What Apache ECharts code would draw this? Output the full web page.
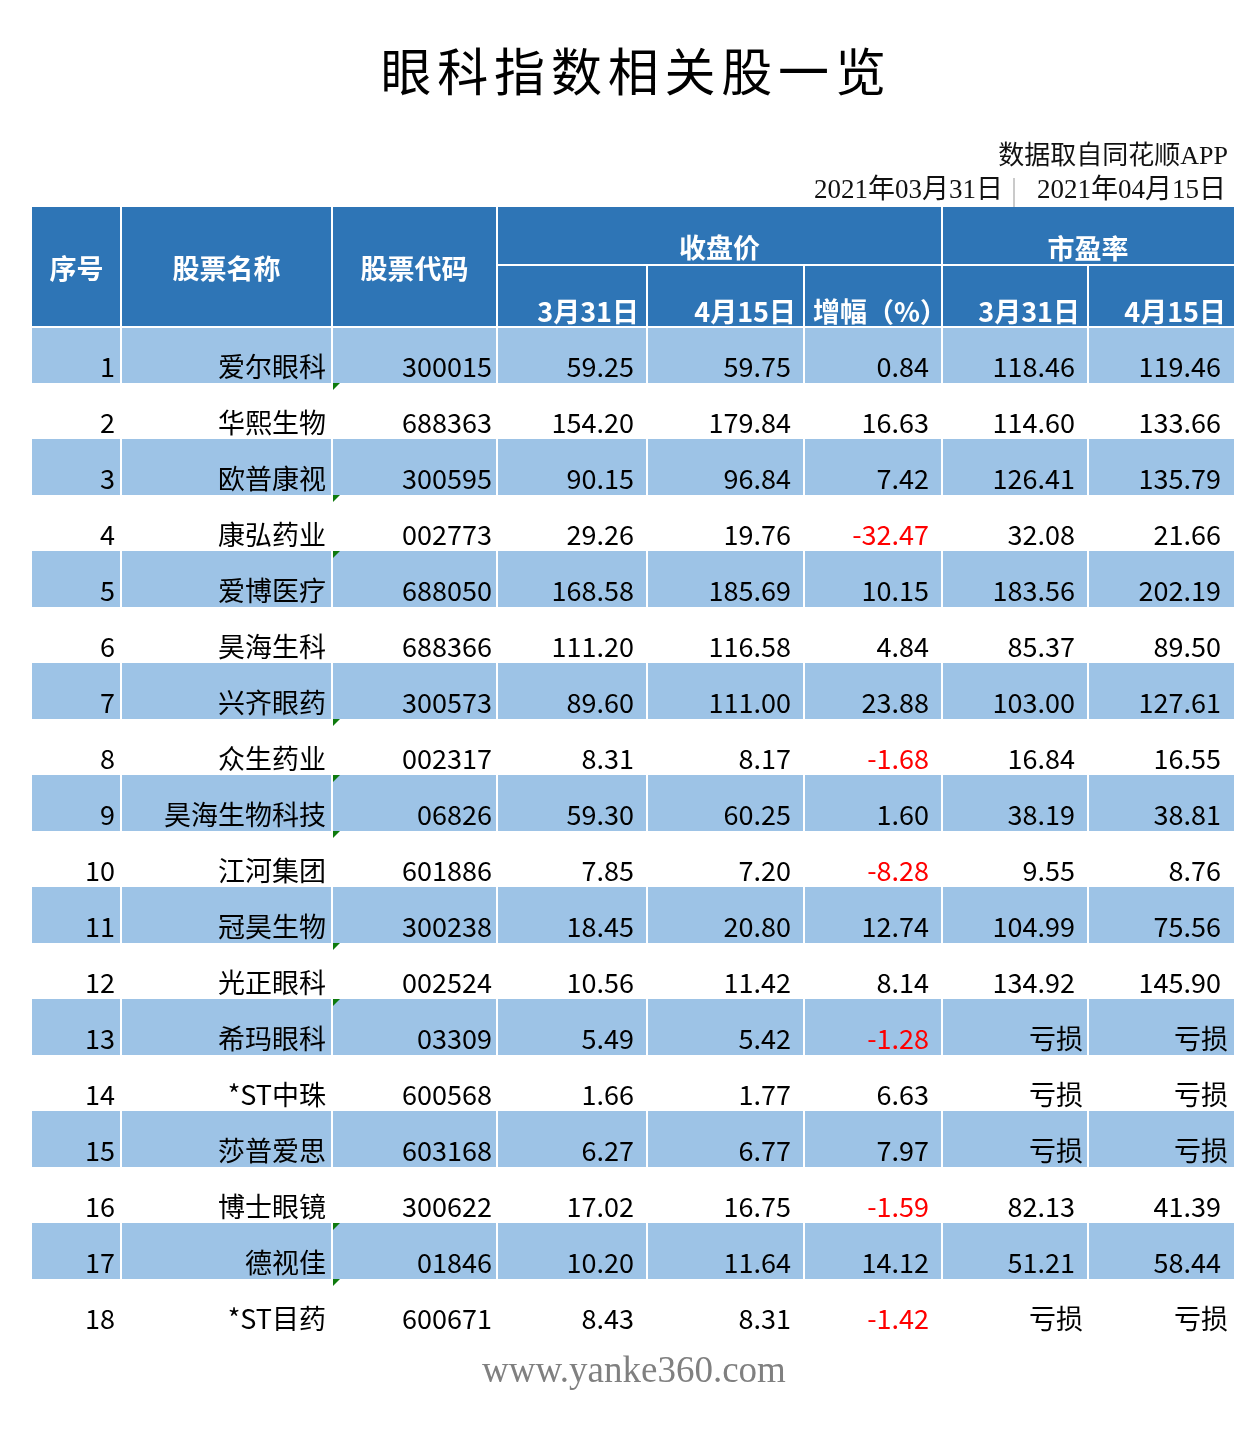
<!DOCTYPE html>
<html>
<head>
<meta charset="utf-8">
<script src="https://cdn.jsdelivr.net/npm/echarts@6/dist/echarts.min.js"></script>
<style>
  html, body { margin: 0; padding: 0; background: #fff; }
  #main { width: 1258px; height: 1431px; }
</style>
</head>
<body>
<div id="main"></div>
<script>
// table data
const names = ['爱尔眼科', '华熙生物', '欧普康视', '康弘药业', '爱博医疗', '昊海生科', '兴齐眼药', '众生药业', '昊海生物科技',
  '江河集团', '冠昊生物', '光正眼科', '希玛眼科', '*ST中珠', '莎普爱思', '博士眼镜', '德视佳', '*ST目药'];
const codes = ['300015', '688363', '300595', '002773', '688050', '688366', '300573', '002317', '06826',
  '601886', '300238', '002524', '03309', '600568', '603168', '300622', '01846', '600671'];
const closeMar31 = [59.25, 154.20, 90.15, 29.26, 168.58, 111.20, 89.60, 8.31, 59.30, 7.85, 18.45, 10.56, 5.49, 1.66, 6.27, 17.02, 10.20, 8.43];
const closeApr15 = [59.75, 179.84, 96.84, 19.76, 185.69, 116.58, 111.00, 8.17, 60.25, 7.20, 20.80, 11.42, 5.42, 1.77, 6.77, 16.75, 11.64, 8.31];
const change = [0.84, 16.63, 7.42, -32.47, 10.15, 4.84, 23.88, -1.68, 1.60, -8.28, 12.74, 8.14, -1.28, 6.63, 7.97, -1.59, 14.12, -1.42];
const peMar31 = [118.46, 114.60, 126.41, 32.08, 183.56, 85.37, 103.00, 16.84, 38.19, 9.55, 104.99, 134.92, null, null, null, 82.13, 51.21, null];
const peApr15 = [119.46, 133.66, 135.79, 21.66, 202.19, 89.50, 127.61, 16.55, 38.81, 8.76, 75.56, 145.90, null, null, null, 41.39, 58.44, null];
// codes stored as text (excel green corner)
const codeAsText = [0, 1, 0, 1, 1, 0, 0, 1, 1, 1, 0, 1, 1, 0, 0, 0, 1, 1];

const headMain = ['序号', '股票名称', '股票代码'];
const headGroups = ['收盘价', '市盈率'];
const headSub = ['3月31日', '4月15日', '增幅（%）', '3月31日', '4月15日'];

const titleText = '眼科指数相关股一览';
const sourceText = '数据取自同花顺APP';
const dateFrom = '2021年03月31日';
const dateTo = '2021年04月15日';
const footerText = 'www.yanke360.com';

// layout
const TL = 32, TR = 1234, HEAD_TOP = 207, HEAD_MID = 265, HEAD_BOT = 327;
const EDGES = [0, 89, 300, 465, 615, 772, 910, 1056, 1202];
const FONT = "'Noto Sans CJK SC', 'Noto Sans', sans-serif";
const SERIF = "'Liberation Serif', 'Noto Sans CJK SC', serif";
const DARK = '#2E75B6', LIGHT = '#9DC3E6';

const chart = echarts.init(document.getElementById('main'));

function fmt(v) { return v == null ? '亏损' : v.toFixed(2); }

function renderRow(params, api) {
  const i = api.value(1);
  const h = api.size([0, 1])[1];
  const cy = api.coord([0, i])[1];
  const top = cy - h / 2;
  const xs = EDGES.map(e => api.coord([e, i])[0]);
  const ty = top + h - 16;
  const children = [];
  if (i % 2 === 0) {
    children.push({ type: 'rect', shape: { x: xs[0], y: top, width: xs[8] - xs[0], height: h }, style: { fill: LIGHT } });
    for (let k = 1; k < 8; k++) {
      children.push({ type: 'line', shape: { x1: xs[k], y1: top, x2: xs[k], y2: top + h }, style: { stroke: '#fff', lineWidth: 2 } });
    }
  }
  const cells = [
    [String(i + 1), 6, '#000'],
    [names[i], 6, '#000'],
    [codes[i], 5, '#000'],
    [fmt(closeMar31[i]), 13, '#000'],
    [fmt(closeApr15[i]), 13, '#000'],
    [fmt(change[i]), 13, change[i] < 0 ? '#FF0000' : '#000'],
    [fmt(peMar31[i]), peMar31[i] == null ? 5 : 13, '#000'],
    [fmt(peApr15[i]), peApr15[i] == null ? 6 : 13, '#000']
  ];
  cells.forEach((c, k) => {
    children.push({
      type: 'text', x: xs[k + 1] - c[1], y: ty,
      style: { text: c[0], fill: c[2], fontSize: 27, fontFamily: FONT, align: 'right', verticalAlign: 'middle' }
    });
  });
  if (codeAsText[i]) {
    const gx = xs[2] + 1;
    children.push({ type: 'polygon', shape: { points: [[gx, top], [gx + 7, top], [gx, top + 7]] }, style: { fill: '#0E7A0D' } });
  }
  return { type: 'group', children: children };
}

// header / titles as graphic elements
const g = [];
g.push({ type: 'rect', shape: { x: TL, y: HEAD_TOP, width: TR - TL, height: HEAD_BOT - HEAD_TOP }, style: { fill: DARK } });
const wline = (x1, y1, x2, y2) => ({ type: 'line', z: 10, shape: { x1, y1, x2, y2 }, style: { stroke: '#fff', lineWidth: 2 } });
[1, 2, 3, 6].forEach(k => g.push(wline(TL + EDGES[k], HEAD_TOP, TL + EDGES[k], HEAD_BOT)));
[4, 5, 7].forEach(k => g.push(wline(TL + EDGES[k], HEAD_MID, TL + EDGES[k], HEAD_BOT)));
g.push(wline(TL + EDGES[3], HEAD_MID, TR, HEAD_MID));
g.push(wline(TL, HEAD_BOT, TR, HEAD_BOT));
const htext = (text, x, y, align) => ({
  type: 'text', z: 11, x, y,
  style: { text, fill: '#fff', fontSize: 27, fontWeight: 'bold', fontFamily: FONT, align, verticalAlign: 'middle' }
});
headMain.forEach((t, k) => g.push(htext(t, TL + (EDGES[k] + EDGES[k + 1]) / 2, 269, 'center')));
g.push(htext(headGroups[0], TL + (EDGES[3] + EDGES[6]) / 2, 248, 'center'));
g.push(htext(headGroups[1], TL + (EDGES[6] + EDGES[8]) / 2, 249, 'center'));
headSub.forEach((t, k) => {
  if (k === 2) g.push(htext(t, TL + EDGES[5] + 9, 312, 'left'));
  else g.push(htext(t, TL + EDGES[k + 4] - 8, 312, 'right'));
});
titleText.split('').forEach((ch, k) => {
  g.push({ type: 'text', x: 406 + 56.8 * k, y: 72,
    style: { text: ch, fill: '#000', fontSize: 51, fontFamily: FONT, align: 'center', verticalAlign: 'middle' } });
});
g.push({ type: 'text', x: 1228, y: 157, style: { text: sourceText, fill: '#111', fontSize: 26, fontFamily: SERIF, align: 'right', verticalAlign: 'middle' } });
g.push({ type: 'text', x: 1003, y: 191, style: { text: dateFrom, fill: '#111', fontSize: 27, fontFamily: SERIF, align: 'right', verticalAlign: 'middle' } });
g.push({ type: 'text', x: 1226, y: 191, style: { text: dateTo, fill: '#111', fontSize: 27, fontFamily: SERIF, align: 'right', verticalAlign: 'middle' } });
g.push({ type: 'line', shape: { x1: 1014, y1: 178, x2: 1014, y2: 207 }, style: { stroke: '#b8b8b8', lineWidth: 1.5 } });
g.push({ type: 'text', x: 634, y: 1372, style: { text: footerText, fill: '#808080', fontSize: 37, fontFamily: SERIF, align: 'center', verticalAlign: 'middle' } });

const option = {
  backgroundColor: '#fff',
  animation: false,
  grid: { left: TL, right: 1258 - TR, top: HEAD_BOT, bottom: 1431 - (HEAD_BOT + 56 * names.length) },
  xAxis: { type: 'value', min: 0, max: EDGES[8], show: false },
  yAxis: { type: 'category', data: names, inverse: true, show: false },
  graphic: g,
  series: [{
    type: 'custom',
    renderItem: renderRow,
    data: names.map((n, i) => [0, i]),
    encode: { x: 0, y: 1 }
  }]
};

chart.setOption(option);
</script>
</body>
</html>
